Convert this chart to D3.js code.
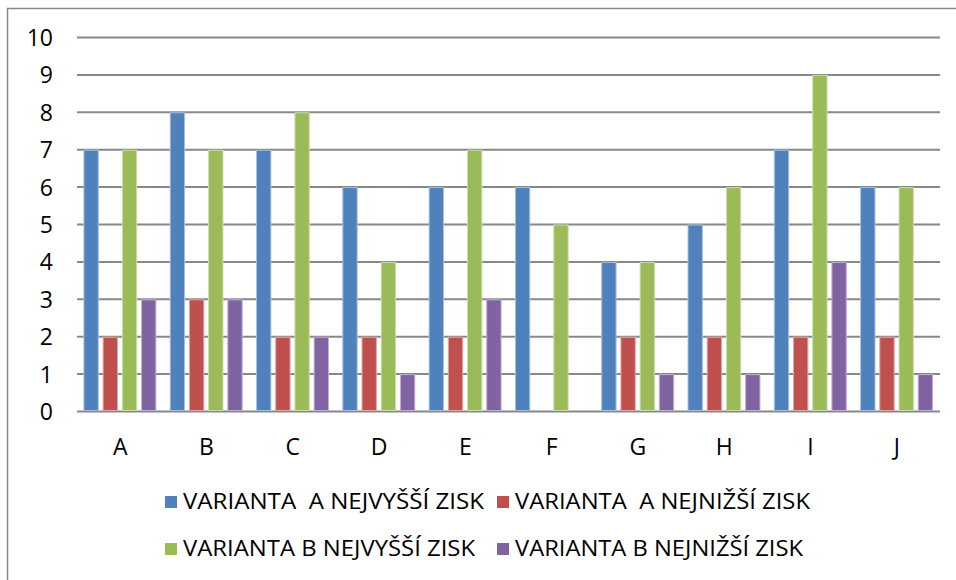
<!DOCTYPE html>
<html><head><meta charset="utf-8">
<script src="https://cdn.jsdelivr.net/npm/d3@7"></script>
<style>body{margin:0;background:#fff}svg{display:block}</style>
</head><body><svg id="c" width="956" height="580"></svg>
<script>
const categories = ["A","B","C","D","E","F","G","H","I","J"];
const seriesNames = ["VARIANTA  A NEJVYŠŠÍ ZISK","VARIANTA  A NEJNIŽŠÍ ZISK","VARIANTA B NEJVYŠŠÍ ZISK","VARIANTA B NEJNIŽŠÍ ZISK"];
const aHigh = [7,8,7,6,6,6,4,5,7,6];
const aLow  = [2,3,2,2,2,0,2,2,2,2];
const bHigh = [7,7,8,4,7,5,4,6,9,6];
const bLow  = [3,3,2,1,3,0,1,1,4,1];
const yTicks = [0,1,2,3,4,5,6,7,8,9,10];
const colors = ["#4F81BD","#C0504D","#9BBB59","#8064A2"];
const edge = ["#A7C0DE","#DFA8A6","#CDDDAC","#BFB1D0"];
const series = [aHigh,aLow,bHigh,bLow];

const svg = d3.select("#c");
const font = "'Open Sans','Noto Sans',sans-serif";
// border
svg.append("path").attr("d","M7.5,580 V8.5 H956").attr("fill","none").attr("stroke","#898989").attr("stroke-width",1.5);

const x0 = d3.scaleBand().domain(categories).range([77,940]).padding(0);
const x1 = d3.scaleBand().domain(d3.range(4)).range([4.5, x0.bandwidth()-5]).paddingInner(0.2).paddingOuter(0.1);
const y = d3.scaleLinear().domain([0,10]).range([411.5,37.5]);

// gridlines
svg.append("g").selectAll("line").data(yTicks).join("line")
  .attr("x1",77).attr("x2",940).attr("y1",d=>y(d)).attr("y2",d=>y(d))
  .attr("stroke","#888").attr("stroke-width",2);

// bars
const g = svg.append("g");
categories.forEach((c,i)=>{
  series.forEach((s,k)=>{
    const v = s[i];
    if(v<=0) return;
    g.append("rect")
      .attr("x",x0(c)+x1(k)+0.5).attr("y",y(v)+0.5)
      .attr("width",x1.bandwidth()-1).attr("height",y(0)-y(v)-1.5)
      .attr("fill",colors[k]).attr("stroke",edge[k]).attr("stroke-width",1);
  });
});

// y axis labels
const yAxis = d3.axisLeft(y).tickValues(yTicks).tickSize(0).tickPadding(0);
const ya = svg.append("g").attr("transform","translate(53,0)").call(yAxis);
ya.select(".domain").remove();
ya.selectAll("text").attr("font-family",font).attr("font-size",23).attr("fill","#000").attr("dy","0.35em");

// x axis labels
const xAxis = d3.axisBottom(x0).tickSize(0).tickPadding(0);
const xa = svg.append("g").attr("transform","translate(0,440)").call(xAxis);
xa.select(".domain").remove();
xa.selectAll("text").attr("font-family",font).attr("font-size",23).attr("fill","#000").attr("dy","0.35em").attr("y",7);

// legend
const legPos = [[165,502],[497,502],[165,549],[497,549]];
const legW = [301,295,292,288];
seriesNames.forEach((n,k)=>{
  const [lx,ly]=legPos[k];
  svg.append("rect").attr("x",lx).attr("y",ly-6).attr("width",12).attr("height",12).attr("fill",colors[k]);
  svg.append("text").attr("x",lx+18).attr("y",ly).attr("dy","0.35em")
    .attr("font-family",font).attr("font-size",21).attr("fill","#000")
    .attr("textLength",legW[k]).attr("lengthAdjust","spacingAndGlyphs")
    .style("white-space","pre").text(n);
});
</script></body></html>
